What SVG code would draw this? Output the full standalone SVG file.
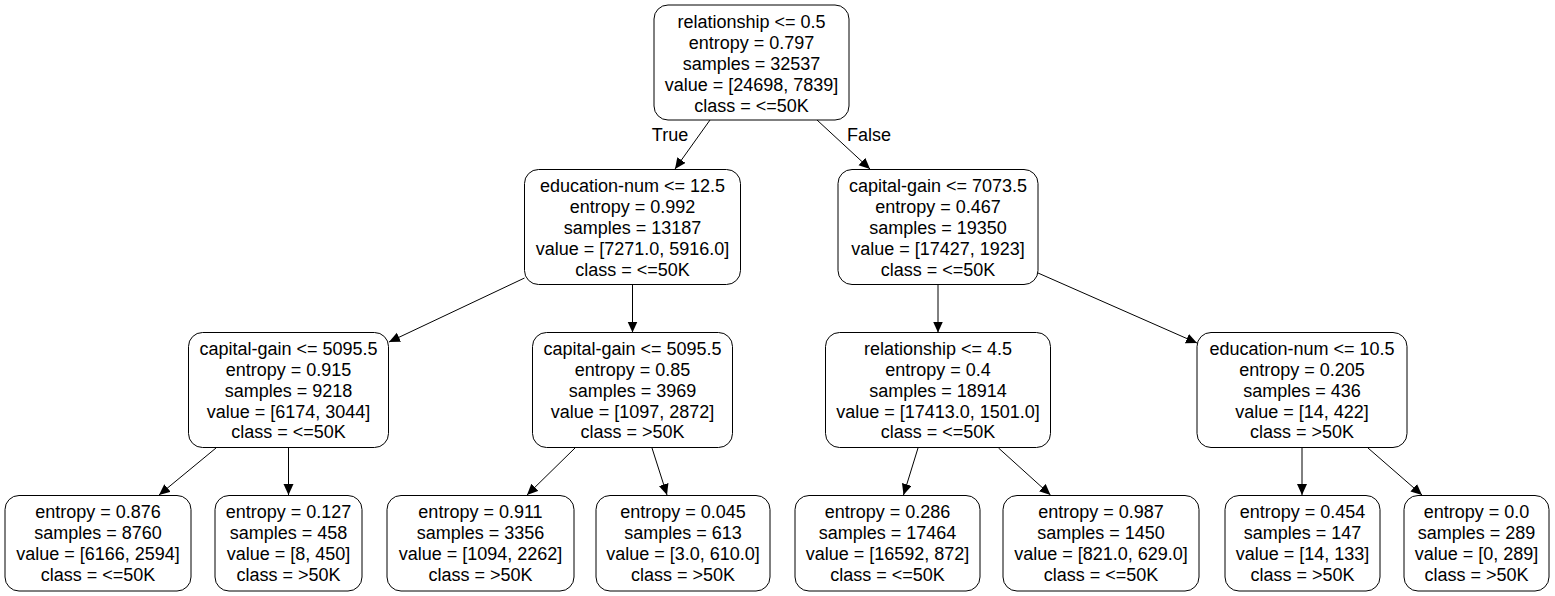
<svg xmlns="http://www.w3.org/2000/svg" width="1555" height="596" viewBox="0 0 1555 596">
<style>
.box{fill:#ffffff;stroke:#000000;stroke-width:1}
text{font-family:"Liberation Sans",Arial,sans-serif;font-size:18px;fill:#000000;text-anchor:middle}
.edge{stroke:#000000;stroke-width:1;fill:none;marker-end:url(#ah)}
</style>
<defs>
<marker id="ah" markerUnits="userSpaceOnUse" markerWidth="12" markerHeight="12" refX="11" refY="5" orient="auto">
<path d="M0,0 L11,5 L0,10 Z" fill="#000000"/>
</marker>
</defs>
<rect width="1555" height="596" fill="#ffffff"/>
<g id="connectors">
<line class="edge" x1="710" y1="120" x2="675" y2="169"/>
<line class="edge" x1="817" y1="120" x2="870" y2="169"/>
<line class="edge" x1="524.5" y1="278" x2="389" y2="342"/>
<line class="edge" x1="632.5" y1="284.5" x2="632.5" y2="332.5"/>
<line class="edge" x1="938" y1="284.5" x2="938" y2="332.5"/>
<line class="edge" x1="1038" y1="273" x2="1197" y2="343"/>
<line class="edge" x1="216" y1="448" x2="159" y2="495"/>
<line class="edge" x1="288.5" y1="447.5" x2="288.5" y2="495"/>
<line class="edge" x1="575" y1="448" x2="527" y2="495"/>
<line class="edge" x1="652" y1="448" x2="667" y2="495"/>
<line class="edge" x1="918" y1="448" x2="903.5" y2="495"/>
<line class="edge" x1="998.5" y1="448" x2="1050.5" y2="495"/>
<line class="edge" x1="1302" y1="447.5" x2="1302" y2="495"/>
<line class="edge" x1="1368" y1="448" x2="1422" y2="495"/>
<text x="670" y="141">True</text>
<text x="869" y="141">False</text>
</g>
<g id="n0">
<rect class="box" x="654" y="5" width="195" height="115" rx="14"/>
<text x="751.5" y="28">relationship &lt;= 0.5</text>
<text x="751.5" y="49">entropy = 0.797</text>
<text x="751.5" y="70">samples = 32537</text>
<text x="751.5" y="91">value = [24698, 7839]</text>
<text x="751.5" y="112">class = &lt;=50K</text>
</g>
<g id="n1">
<rect class="box" x="524.5" y="169.5" width="216" height="115" rx="14"/>
<text x="632.5" y="192">education-num &lt;= 12.5</text>
<text x="632.5" y="213">entropy = 0.992</text>
<text x="632.5" y="234">samples = 13187</text>
<text x="632.5" y="255">value = [7271.0, 5916.0]</text>
<text x="632.5" y="276">class = &lt;=50K</text>
</g>
<g id="n2">
<rect class="box" x="838" y="169.5" width="200" height="115" rx="14"/>
<text x="938" y="192">capital-gain &lt;= 7073.5</text>
<text x="938" y="213">entropy = 0.467</text>
<text x="938" y="234">samples = 19350</text>
<text x="938" y="255">value = [17427, 1923]</text>
<text x="938" y="276">class = &lt;=50K</text>
</g>
<g id="n3">
<rect class="box" x="188.5" y="332.5" width="200" height="115" rx="14"/>
<text x="288.5" y="355">capital-gain &lt;= 5095.5</text>
<text x="288.5" y="376">entropy = 0.915</text>
<text x="288.5" y="397">samples = 9218</text>
<text x="288.5" y="417.5">value = [6174, 3044]</text>
<text x="288.5" y="438">class = &lt;=50K</text>
</g>
<g id="n4">
<rect class="box" x="532.5" y="332.5" width="200" height="115" rx="14"/>
<text x="632.5" y="355">capital-gain &lt;= 5095.5</text>
<text x="632.5" y="376">entropy = 0.85</text>
<text x="632.5" y="397">samples = 3969</text>
<text x="632.5" y="417.5">value = [1097, 2872]</text>
<text x="632.5" y="438">class = &gt;50K</text>
</g>
<g id="n5">
<rect class="box" x="825.5" y="332.5" width="225" height="115" rx="14"/>
<text x="938" y="355">relationship &lt;= 4.5</text>
<text x="938" y="376">entropy = 0.4</text>
<text x="938" y="397">samples = 18914</text>
<text x="938" y="417.5">value = [17413.0, 1501.0]</text>
<text x="938" y="438">class = &lt;=50K</text>
</g>
<g id="n6">
<rect class="box" x="1197" y="332.5" width="210" height="115" rx="14"/>
<text x="1302" y="355">education-num &lt;= 10.5</text>
<text x="1302" y="376">entropy = 0.205</text>
<text x="1302" y="397">samples = 436</text>
<text x="1302" y="417.5">value = [14, 422]</text>
<text x="1302" y="438">class = &gt;50K</text>
</g>
<g id="l1">
<rect class="box" x="5" y="495.5" width="186" height="95.5" rx="14"/>
<text x="98" y="518">entropy = 0.876</text>
<text x="98" y="539">samples = 8760</text>
<text x="98" y="560">value = [6166, 2594]</text>
<text x="98" y="581">class = &lt;=50K</text>
</g>
<g id="l2">
<rect class="box" x="215" y="495.5" width="147" height="95.5" rx="14"/>
<text x="288.5" y="518">entropy = 0.127</text>
<text x="288.5" y="539">samples = 458</text>
<text x="288.5" y="560">value = [8, 450]</text>
<text x="288.5" y="581">class = &gt;50K</text>
</g>
<g id="l3">
<rect class="box" x="387" y="495.5" width="187" height="95.5" rx="14"/>
<text x="480.5" y="518">entropy = 0.911</text>
<text x="480.5" y="539">samples = 3356</text>
<text x="480.5" y="560">value = [1094, 2262]</text>
<text x="480.5" y="581">class = &gt;50K</text>
</g>
<g id="l4">
<rect class="box" x="596" y="495.5" width="174" height="95.5" rx="14"/>
<text x="683" y="518">entropy = 0.045</text>
<text x="683" y="539">samples = 613</text>
<text x="683" y="560">value = [3.0, 610.0]</text>
<text x="683" y="581">class = &gt;50K</text>
</g>
<g id="l5">
<rect class="box" x="795" y="495.5" width="185" height="95.5" rx="14"/>
<text x="887.5" y="518">entropy = 0.286</text>
<text x="887.5" y="539">samples = 17464</text>
<text x="887.5" y="560">value = [16592, 872]</text>
<text x="887.5" y="581">class = &lt;=50K</text>
</g>
<g id="l6">
<rect class="box" x="1003" y="495.5" width="196" height="95.5" rx="14"/>
<text x="1101" y="518">entropy = 0.987</text>
<text x="1101" y="539">samples = 1450</text>
<text x="1101" y="560">value = [821.0, 629.0]</text>
<text x="1101" y="581">class = &lt;=50K</text>
</g>
<g id="l7">
<rect class="box" x="1225" y="495.5" width="155" height="95.5" rx="14"/>
<text x="1302.5" y="518">entropy = 0.454</text>
<text x="1302.5" y="539">samples = 147</text>
<text x="1302.5" y="560">value = [14, 133]</text>
<text x="1302.5" y="581">class = &gt;50K</text>
</g>
<g id="l8">
<rect class="box" x="1404" y="495.5" width="145" height="95.5" rx="14"/>
<text x="1476.5" y="518">entropy = 0.0</text>
<text x="1476.5" y="539">samples = 289</text>
<text x="1476.5" y="560">value = [0, 289]</text>
<text x="1476.5" y="581">class = &gt;50K</text>
</g>
</svg>
